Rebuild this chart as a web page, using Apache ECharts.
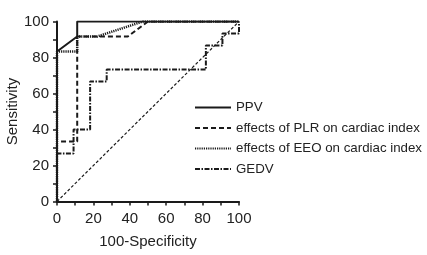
<!DOCTYPE html>
<html>
<head>
<meta charset="utf-8">
<script src="https://cdn.jsdelivr.net/npm/echarts@6/dist/echarts.min.js"></script>
<style>
  html, body { margin: 0; padding: 0; background: #fff; }
  #roc_chart { width: 427px; height: 255px; }
</style>
</head>
<body>
<div id="roc_chart"></div>
<script>
// ROC curves, [100-Specificity, Sensitivity]
var ppv  = [[0, 0], [0, 83.3], [11.1, 91.7], [11.1, 100], [100, 100]];
var plr  = [[0, 0], [0, 33.3], [11.1, 33.3], [11.1, 91.7], [38.9, 91.7], [50, 100], [100, 100]];
var eeo  = [[0, 0], [0, 83.3], [11.1, 83.3], [11.1, 91.7], [22.2, 91.7], [47.2, 100], [100, 100]];
var gedv = [[0, 0], [0, 26.7], [9.1, 26.7], [9.1, 40], [18.2, 40], [18.2, 66.7], [27.3, 66.7], [27.3, 73.3],
            [81.8, 73.3], [81.8, 86.7], [90.9, 86.7], [90.9, 93.3], [100, 93.3], [100, 100]];
var refLine = [[0, 0], [100, 100]];
var legendNames = ['PPV', 'effects of PLR on cardiac index', 'effects of EEO on cardiac index', 'GEDV'];

var font = 'Arial';
var ink = '#1a1a1a';

var chart = echarts.init(document.getElementById('roc_chart'), null, {renderer: 'canvas'});

function axisCfg(name, gap, labelMargin) {
  return {
    type: 'value', min: 0, max: 100, interval: 20,
    name: name, nameLocation: 'middle', nameGap: gap,
    nameTextStyle: {fontFamily: font, fontSize: 15, color: '#222'},
    axisLine: {show: true, lineStyle: {color: ink, width: 2}},
    axisTick: {show: true, inside: false, length: 4, lineStyle: {color: ink, width: 1.5}},
    minorTick: {show: true, splitNumber: 2, length: 4, lineStyle: {color: ink, width: 1.5}},
    axisLabel: {fontFamily: font, fontSize: 15, color: '#222', margin: labelMargin},
    splitLine: {show: false}
  };
}

function curve(name, data, type, width) {
  return {
    name: name, type: 'line', data: data, symbol: 'none', silent: true,
    itemStyle: {color: ink},
    lineStyle: {color: ink, width: width, type: type}
  };
}

var option = {
  animation: false,
  grid: {left: 57, right: 188, top: 21.5, bottom: 53.5, outerBoundsMode: 'none'},
  legend: {
    orient: 'vertical', left: 189, top: 96,
    itemWidth: 36, itemHeight: 14, itemGap: 7.5,
    data: legendNames,
    itemStyle: {opacity: 0},
    textStyle: {fontFamily: font, fontSize: 13.3, color: '#222'}
  },
  xAxis: axisCfg('100-Specificity', 33, 10),
  yAxis: axisCfg('Sensitivity', 33, 8),
  series: [
    curve('reference', refLine, [3, 2], 1.2),
    curve('GEDV', gedv, [5, 1.5, 1.5, 1.5], 2),
    curve('effects of EEO on cardiac index', eeo, [1.2, 1], 2.5),
    curve('effects of PLR on cardiac index', plr, [5, 3], 2),
    curve('PPV', ppv, 'solid', 2)
  ]
};
chart.setOption(option);
</script>
</body>
</html>
